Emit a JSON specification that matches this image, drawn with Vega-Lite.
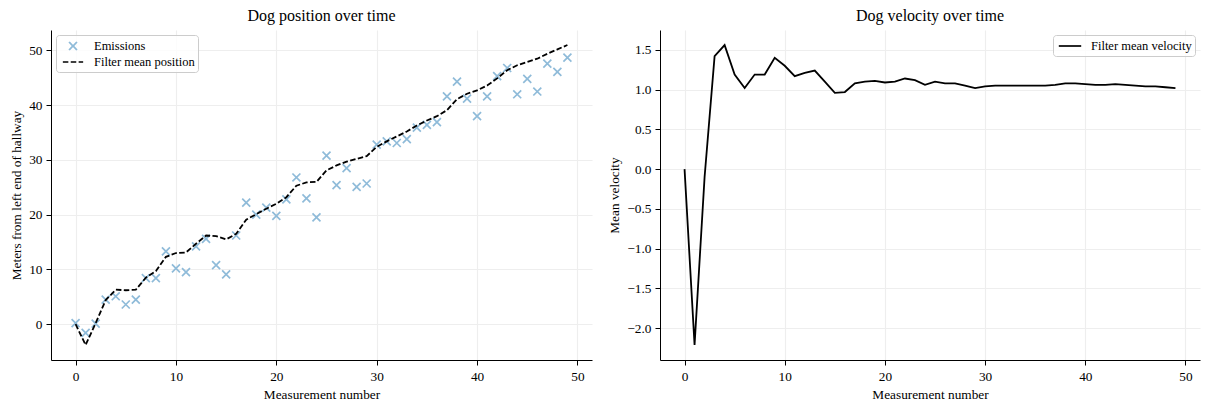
{
  "$schema": "https://vega.github.io/schema/vega-lite/v6.json",
  "background": "white",
  "padding": {"left": 9, "top": 8, "right": 5, "bottom": 5},
  "spacing": 15,
  "config": {
    "font": "Liberation Serif",
    "view": {"stroke": null},
    "axis": {
      "labelFont": "Liberation Serif", "labelFontSize": 13.3, "labelColor": "black",
      "titleFont": "Liberation Serif", "titleFontSize": 13.3, "titleFontWeight": "normal", "titleColor": "black",
      "domainColor": "black", "domainWidth": 1, "tickColor": "black", "tickSize": 5, "tickWidth": 1,
      "labelPadding": 4, "titlePadding": 5, "labelFlush": false,
      "gridColor": "#eeeeee", "gridWidth": 1.2
    },
    "title": {"font": "Liberation Serif", "fontSize": 16, "fontWeight": "normal", "color": "black", "offset": 6},
    "legend": {
      "labelFont": "Liberation Serif", "labelFontSize": 12.5, "labelColor": "black",
      "strokeColor": "#cccccc", "fillColor": "rgba(255,255,255,0.8)", "cornerRadius": 3,
      "padding": 3, "rowPadding": 0, "labelOffset": 13, "symbolOffset": 6, "symbolStrokeWidth": 1.7, "symbolSize": 196
    }
  },
  "resolve": {"scale": {"color": "independent", "shape": "independent", "strokeDash": "independent", "x": "independent", "y": "independent"}, "legend": {"color": "independent", "shape": "independent", "strokeDash": "independent"}},
  "hconcat": [
    {
      "width": 541, "height": 330,
      "title": "Dog position over time",
      "data": {"values": [
        {"t":0,"value":0.2,"series":"Emissions"},{"t":1,"value":-1.6,"series":"Emissions"},{"t":2,"value":0.1,"series":"Emissions"},{"t":3,"value":4.5,"series":"Emissions"},{"t":4,"value":5.1,"series":"Emissions"},
        {"t":5,"value":3.6,"series":"Emissions"},{"t":6,"value":4.5,"series":"Emissions"},{"t":7,"value":8.4,"series":"Emissions"},{"t":8,"value":8.4,"series":"Emissions"},{"t":9,"value":13.3,"series":"Emissions"},
        {"t":10,"value":10.2,"series":"Emissions"},{"t":11,"value":9.5,"series":"Emissions"},{"t":12,"value":14.2,"series":"Emissions"},{"t":13,"value":15.6,"series":"Emissions"},{"t":14,"value":10.8,"series":"Emissions"},
        {"t":15,"value":9.1,"series":"Emissions"},{"t":16,"value":16.2,"series":"Emissions"},{"t":17,"value":22.2,"series":"Emissions"},{"t":18,"value":20.0,"series":"Emissions"},{"t":19,"value":21.3,"series":"Emissions"},
        {"t":20,"value":19.8,"series":"Emissions"},{"t":21,"value":22.8,"series":"Emissions"},{"t":22,"value":26.8,"series":"Emissions"},{"t":23,"value":23.0,"series":"Emissions"},{"t":24,"value":19.5,"series":"Emissions"},
        {"t":25,"value":30.8,"series":"Emissions"},{"t":26,"value":25.4,"series":"Emissions"},{"t":27,"value":28.5,"series":"Emissions"},{"t":28,"value":25.1,"series":"Emissions"},{"t":29,"value":25.7,"series":"Emissions"},
        {"t":30,"value":32.8,"series":"Emissions"},{"t":31,"value":33.4,"series":"Emissions"},{"t":32,"value":33.1,"series":"Emissions"},{"t":33,"value":33.8,"series":"Emissions"},{"t":34,"value":35.9,"series":"Emissions"},
        {"t":35,"value":36.4,"series":"Emissions"},{"t":36,"value":36.9,"series":"Emissions"},{"t":37,"value":41.6,"series":"Emissions"},{"t":38,"value":44.3,"series":"Emissions"},{"t":39,"value":41.2,"series":"Emissions"},
        {"t":40,"value":38.0,"series":"Emissions"},{"t":41,"value":41.6,"series":"Emissions"},{"t":42,"value":45.3,"series":"Emissions"},{"t":43,"value":46.8,"series":"Emissions"},{"t":44,"value":42.0,"series":"Emissions"},
        {"t":45,"value":44.8,"series":"Emissions"},{"t":46,"value":42.5,"series":"Emissions"},{"t":47,"value":47.6,"series":"Emissions"},{"t":48,"value":46.1,"series":"Emissions"},{"t":49,"value":48.7,"series":"Emissions"},
        {"t":0,"value":0.0,"series":"Filter mean position"},{"t":1,"value":-3.8,"series":"Filter mean position"},{"t":2,"value":0.2,"series":"Filter mean position"},{"t":3,"value":4.4,"series":"Filter mean position"},{"t":4,"value":6.3,"series":"Filter mean position"},
        {"t":5,"value":6.2,"series":"Filter mean position"},{"t":6,"value":6.3,"series":"Filter mean position"},{"t":7,"value":8.5,"series":"Filter mean position"},{"t":8,"value":9.7,"series":"Filter mean position"},{"t":9,"value":12.3,"series":"Filter mean position"},
        {"t":10,"value":13.0,"series":"Filter mean position"},{"t":11,"value":13.1,"series":"Filter mean position"},{"t":12,"value":14.7,"series":"Filter mean position"},{"t":13,"value":16.2,"series":"Filter mean position"},{"t":14,"value":16.1,"series":"Filter mean position"},
        {"t":15,"value":15.5,"series":"Filter mean position"},{"t":16,"value":16.5,"series":"Filter mean position"},{"t":17,"value":19.1,"series":"Filter mean position"},{"t":18,"value":20.1,"series":"Filter mean position"},{"t":19,"value":21.1,"series":"Filter mean position"},
        {"t":20,"value":22.0,"series":"Filter mean position"},{"t":21,"value":23.2,"series":"Filter mean position"},{"t":22,"value":25.3,"series":"Filter mean position"},{"t":23,"value":25.9,"series":"Filter mean position"},{"t":24,"value":26.0,"series":"Filter mean position"},
        {"t":25,"value":28.1,"series":"Filter mean position"},{"t":26,"value":29.0,"series":"Filter mean position"},{"t":27,"value":29.7,"series":"Filter mean position"},{"t":28,"value":30.2,"series":"Filter mean position"},{"t":29,"value":30.7,"series":"Filter mean position"},
        {"t":30,"value":32.4,"series":"Filter mean position"},{"t":31,"value":33.4,"series":"Filter mean position"},{"t":32,"value":34.3,"series":"Filter mean position"},{"t":33,"value":35.2,"series":"Filter mean position"},{"t":34,"value":36.3,"series":"Filter mean position"},
        {"t":35,"value":37.2,"series":"Filter mean position"},{"t":36,"value":38.0,"series":"Filter mean position"},{"t":37,"value":39.1,"series":"Filter mean position"},{"t":38,"value":41.1,"series":"Filter mean position"},{"t":39,"value":42.1,"series":"Filter mean position"},
        {"t":40,"value":42.7,"series":"Filter mean position"},{"t":41,"value":43.6,"series":"Filter mean position"},{"t":42,"value":44.9,"series":"Filter mean position"},{"t":43,"value":46.4,"series":"Filter mean position"},{"t":44,"value":47.3,"series":"Filter mean position"},
        {"t":45,"value":47.9,"series":"Filter mean position"},{"t":46,"value":48.5,"series":"Filter mean position"},{"t":47,"value":49.4,"series":"Filter mean position"},{"t":48,"value":50.2,"series":"Filter mean position"},{"t":49,"value":51.0,"series":"Filter mean position"}
      ]},
      "layer": [
        {
          "transform": [{"filter": "datum.series === 'Emissions'"}],
          "mark": {"type": "point", "filled": false, "size": 196, "strokeWidth": 1.7, "opacity": 1},
          "encoding": {
            "x": {"field": "t", "type": "quantitative", "scale": {"domain": [-2.45, 51.45], "nice": false, "zero": false}, "axis": {"values": [0,10,20,30,40,50], "title": "Measurement number"}},
            "y": {"field": "value", "type": "quantitative", "scale": {"domain": [-6.54, 53.74], "nice": false, "zero": false}, "axis": {"values": [0,10,20,30,40,50], "title": "Meters from left end of hallway"}},
            "color": {"field": "series", "type": "nominal", "scale": {"domain": ["Emissions", "Filter mean position"], "range": ["#8fbbd9", "#000000"]}, "legend": {"title": null, "orient": "top-left", "offset": 5}},
            "shape": {"field": "series", "type": "nominal", "scale": {"domain": ["Emissions", "Filter mean position"], "range": ["M-0.57,-0.57L0.57,0.57M-0.57,0.57L0.57,-0.57", "M-1.45,0L1.45,0"]}, "legend": {"title": null, "orient": "top-left", "offset": 5}}
          }
        },
        {
          "transform": [{"filter": "datum.series === 'Filter mean position'"}],
          "mark": {"type": "line", "strokeWidth": 1.8},
          "encoding": {
            "x": {"field": "t", "type": "quantitative"},
            "y": {"field": "value", "type": "quantitative"},
            "color": {"field": "series", "type": "nominal", "scale": {"domain": ["Emissions", "Filter mean position"], "range": ["#8fbbd9", "#000000"]}, "legend": {"title": null, "orient": "top-left", "offset": 5}},
            "strokeDash": {"field": "series", "type": "nominal", "scale": {"domain": ["Emissions", "Filter mean position"], "range": [[1, 0], [5.5, 2.4]]}, "legend": {"title": null, "orient": "top-left", "offset": 5}}
          }
        }
      ]
    },
    {
      "width": 540, "height": 330,
      "title": "Dog velocity over time",
      "data": {"values": [
        {"t":0,"v":0.0},{"t":1,"v":-2.21},{"t":2,"v":-0.1},{"t":3,"v":1.42},{"t":4,"v":1.56},
        {"t":5,"v":1.19},{"t":6,"v":1.02},{"t":7,"v":1.19},{"t":8,"v":1.19},{"t":9,"v":1.40},
        {"t":10,"v":1.30},{"t":11,"v":1.17},{"t":12,"v":1.21},{"t":13,"v":1.24},{"t":14,"v":1.10},
        {"t":15,"v":0.96},{"t":16,"v":0.97},{"t":17,"v":1.08},{"t":18,"v":1.10},{"t":19,"v":1.11},
        {"t":20,"v":1.09},{"t":21,"v":1.10},{"t":22,"v":1.14},{"t":23,"v":1.12},{"t":24,"v":1.06},
        {"t":25,"v":1.10},{"t":26,"v":1.08},{"t":27,"v":1.08},{"t":28,"v":1.05},{"t":29,"v":1.02},
        {"t":30,"v":1.04},{"t":31,"v":1.05},{"t":32,"v":1.05},{"t":33,"v":1.05},{"t":34,"v":1.05},
        {"t":35,"v":1.05},{"t":36,"v":1.05},{"t":37,"v":1.06},{"t":38,"v":1.08},{"t":39,"v":1.08},
        {"t":40,"v":1.07},{"t":41,"v":1.06},{"t":42,"v":1.06},{"t":43,"v":1.07},{"t":44,"v":1.06},
        {"t":45,"v":1.05},{"t":46,"v":1.04},{"t":47,"v":1.04},{"t":48,"v":1.03},{"t":49,"v":1.02}
      ]},
      "mark": {"type": "line", "strokeWidth": 1.8},
      "encoding": {
        "x": {"field": "t", "type": "quantitative", "scale": {"domain": [-2.45, 51.45], "nice": false, "zero": false}, "axis": {"values": [0,10,20,30,40,50], "title": "Measurement number"}},
        "y": {"field": "v", "type": "quantitative", "scale": {"domain": [-2.40, 1.75], "nice": false, "zero": false}, "axis": {"values": [-2,-1.5,-1,-0.5,0,0.5,1,1.5], "format": ".1f", "title": "Mean velocity"}},
        "color": {"datum": "Filter mean velocity", "type": "nominal", "scale": {"range": ["#000000"]}, "legend": {"title": null, "orient": "top-right", "offset": 5, "symbolType": "M-1.6,0L1.6,0"}}
      }
    }
  ]
}
